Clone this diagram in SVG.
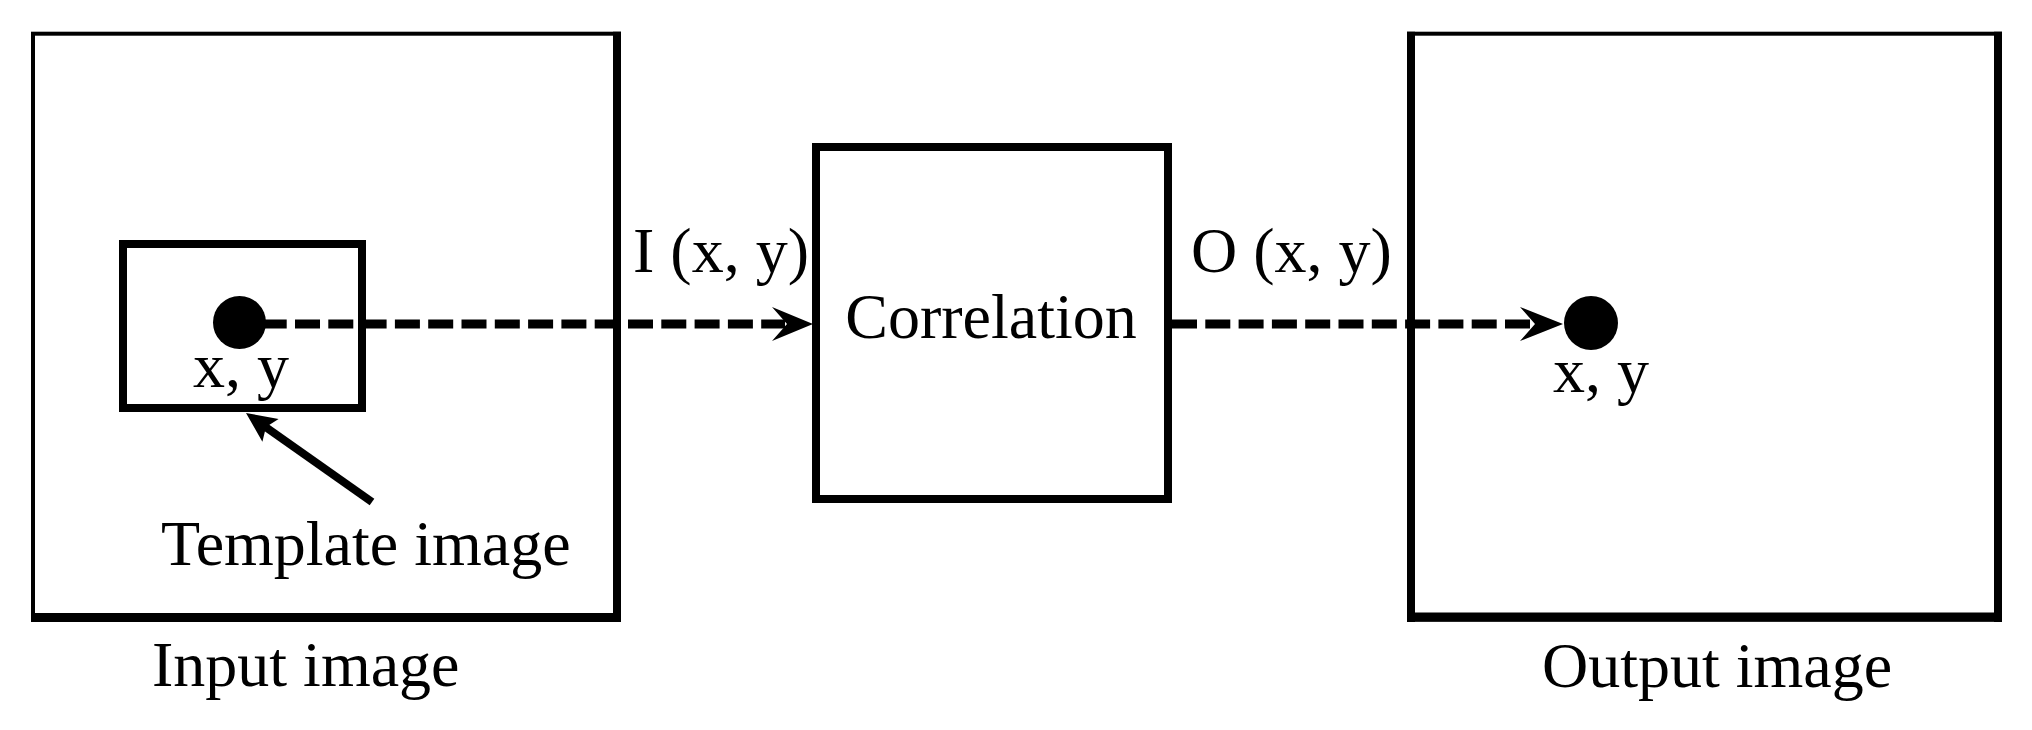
<svg xmlns="http://www.w3.org/2000/svg" width="2032" height="730" viewBox="0 0 2032 730">
<style>
  .lbl { font-family: "Liberation Serif", "Times New Roman", serif; font-size: 64px; fill: #000; }
  .box { fill: none; stroke: #000; }
  .dash { fill: none; stroke: #000; stroke-width: 9; stroke-dasharray: 25 8.3; }
</style>
<rect width="2032" height="730" fill="#fff"/>

<g id="input-image">
  <rect class="box" x="33" y="33.7" width="586" height="586" stroke-width="4"/>
  <line x1="617" y1="31.7" x2="617" y2="622" stroke="#000" stroke-width="8"/>
  <line x1="31" y1="617.5" x2="621" y2="617.5" stroke="#000" stroke-width="9"/>
  <text class="lbl" x="152" y="686">Input image</text>
</g>

<g id="template-image">
  <rect class="box" x="123" y="244" width="239" height="164" stroke-width="8"/>
  <text class="lbl" x="193" y="387">x, y</text>
  <text class="lbl" x="161" y="565">Template image</text>
</g>

<g id="correlation">
  <rect class="box" x="816" y="147" width="352" height="352" stroke-width="8"/>
  <text class="lbl" x="991" y="338" text-anchor="middle">Correlation</text>
</g>

<g id="output-image">
  <rect class="box" x="1409" y="33.7" width="591" height="586" stroke-width="4"/>
  <line x1="1411" y1="31.7" x2="1411" y2="622" stroke="#000" stroke-width="8"/>
  <line x1="1998" y1="31.7" x2="1998" y2="622" stroke="#000" stroke-width="8"/>
  <line x1="1407" y1="617" x2="2002" y2="617" stroke="#000" stroke-width="9"/>
  <text class="lbl" x="1553" y="392">x, y</text>
  <text class="lbl" x="1542" y="687">Output image</text>
</g>

<g id="connectors">
  <!-- input point to correlation -->
  <circle cx="239.5" cy="322.5" r="26.5" fill="#000"/>
  <line class="dash" x1="261.7" y1="324" x2="785" y2="324"/>
  <polygon points="813,324 772,307 787,324 772,341" fill="#000"/>
  <text class="lbl" x="633" y="272">I (x, y)</text>

  <!-- correlation to output point -->
  <line class="dash" x1="1172" y1="324" x2="1533" y2="324"/>
  <polygon points="1563,324 1520,307 1535,324 1520,341" fill="#000"/>
  <circle cx="1591" cy="323" r="27" fill="#000"/>
  <text class="lbl" x="1191" y="272">O (x, y)</text>

  <!-- template label arrow -->
  <line x1="372" y1="502" x2="262" y2="424.5" stroke="#000" stroke-width="8"/>
  <polygon points="246,413 278.6,418.9 266,427 262.4,441.7" fill="#000"/>
</g>
</svg>
